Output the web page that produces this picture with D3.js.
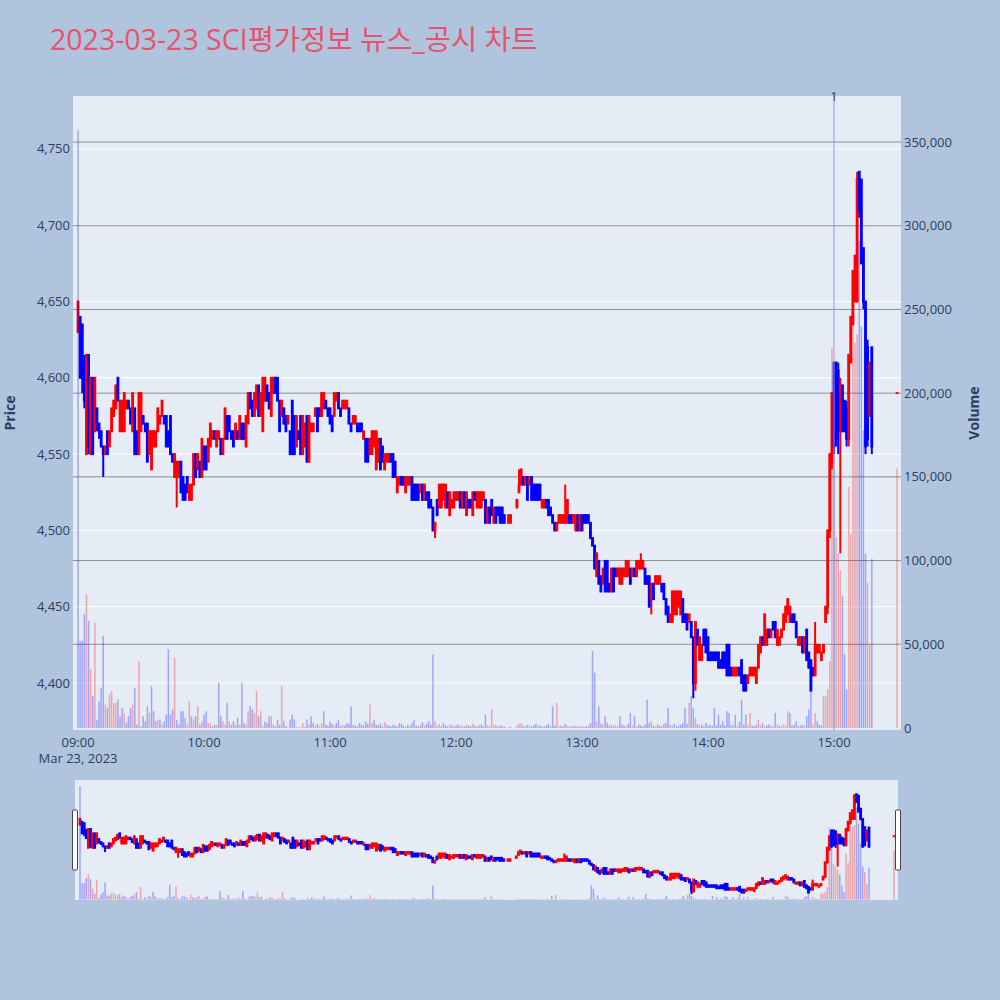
<!DOCTYPE html>
<html><head><meta charset="utf-8">
<script src="https://cdn.jsdelivr.net/npm/d3@7"></script>
<style>body{margin:0;background:#b0c4de;}svg{display:block}</style>
</head><body>
<svg id="c" width="1000" height="1000"></svg>
<script>
// ---------------- DATA ----------------
const chartTitle = "2023-03-23 SCI평가정보 뉴스_공시 차트";
const tradeDate = "2023-03-23";
const startTime = "09:00";      // index 0 = 09:00, one entry per minute
const prevClose = 4655;
const opens = [
4630,4640,4635,4610,4550,4615,4550,4600,4565,4580,
4570,4565,4555,4550,4565,4555,4565,4575,4580,4600,
4565,4565,4565,4580,4585,4580,4565,4580,4565,4550,
4565,4575,4570,4570,4550,4540,4555,4555,4565,4570,
4575,4575,4575,4565,4575,4550,4535,4540,4535,4545,
4535,4530,4535,4520,4520,4530,4550,4540,4545,4535,
4555,4555,4545,4555,4560,4565,4555,4560,4560,4550,
4560,4575,4575,4565,4565,4560,4565,4560,4570,4570,
4555,4570,4590,4585,4575,4580,4595,4575,4565,4585,
4595,4590,4575,4590,4600,4600,4585,4575,4580,4575,
4570,4565,4585,4575,4555,4565,4575,4550,4555,4575,
4545,4565,4565,4575,4580,4580,4575,4580,4585,4580,
4580,4575,4575,4585,4590,4580,4580,4580,4580,4580,
4570,4570,4570,4570,4570,4570,4560,4560,4560,4550,
4550,4555,4540,4545,4560,4555,4540,4545,4545,4550,
4550,4545,4525,4530,4535,4535,4525,4530,4530,4535,
4530,4530,4530,4525,4530,4520,4525,4525,4520,4515,
4500,4520,4515,4515,4520,4515,4525,4510,4515,4515,
4520,4520,4525,4515,4525,4510,4520,4520,4510,4525,
4515,4515,4515,4520,4520,4505,4515,4520,4505,4515,
4515,4515,4515,4510,null,4505,4505,null,null,4515,
4525,4530,4535,4530,4535,4530,4535,4530,4530,4530,
4530,4515,4515,4520,4520,4515,4510,4505,4500,4505,
4505,4505,4505,4505,4510,4510,4505,4500,4510,4500,
4510,4510,4510,4510,4505,4495,4490,4470,4480,4470,
4465,4480,4480,4465,4460,4475,4475,4470,4465,4465,
4470,4470,4470,4475,4470,4475,4470,4475,4475,4475,
4475,4470,4470,4455,4465,4465,4465,4465,4465,4465,
4455,4450,4440,4440,4445,4445,4450,4445,4455,4445,
4445,4440,4440,4430,4400,4435,4415,4415,4435,4435,
4430,4420,4420,4420,4420,4420,4415,4420,4420,4425,
4425,4410,4405,4405,4405,4410,4415,4405,4405,4400,
4405,4405,4405,4400,4410,4420,4430,4425,4425,4435,
4430,4440,4440,4425,4425,4430,4435,4440,4445,4440,
4445,4445,4440,4425,4425,4430,4420,4435,4420,4415,
4410,4405,4420,4420,4415,4420,4440,4450,4500,4545,
4610,4610,4605,4590,4595,4585,4580,4560,4610,4635,
4650,4650,4735,4730,4685,4650,4620,4575,4620,null,
null,null,null,null,null,null,null,null,null,null,
4590];
const highs = [
4650,4640,4635,4615,4615,4615,4600,4600,4600,4580,
4570,4565,4555,4555,4565,4565,4580,4585,4595,4600,
4585,4585,4590,4585,4585,4580,4590,4580,4565,4590,
4590,4575,4570,4570,4565,4565,4565,4565,4580,4575,
4585,4575,4575,4565,4575,4550,4550,4545,4545,4545,
4535,4530,4535,4530,4530,4550,4550,4550,4545,4560,
4555,4555,4560,4570,4565,4565,4565,4565,4560,4560,
4580,4575,4575,4565,4565,4570,4565,4575,4570,4570,
4575,4590,4590,4585,4590,4595,4595,4590,4600,4600,
4595,4590,4600,4600,4600,4600,4585,4585,4580,4575,
4575,4565,4585,4575,4575,4565,4575,4575,4570,4575,
4575,4570,4570,4580,4580,4580,4590,4590,4585,4580,
4580,4575,4590,4590,4590,4580,4585,4585,4585,4580,
4570,4575,4575,4570,4570,4570,4565,4560,4560,4560,
4565,4565,4565,4560,4560,4555,4550,4550,4550,4550,
4550,4545,4535,4535,4535,4535,4535,4535,4535,4535,
4530,4530,4530,4530,4530,4530,4525,4525,4520,4515,
4505,4520,4530,4530,4530,4530,4525,4525,4520,4525,
4525,4525,4525,4525,4525,4525,4520,4520,4525,4525,
4525,4525,4525,4525,4520,4515,4515,4520,4515,4515,
4515,4515,4515,4510,null,4510,4510,null,null,4520,
4540,4540,4535,4535,4535,4535,4535,4530,4530,4530,
4530,4520,4520,4520,4520,4515,4510,4505,4505,4510,
4510,4510,4530,4520,4510,4510,4510,4510,4510,4510,
4510,4510,4510,4510,4505,4495,4490,4485,4480,4470,
4475,4480,4480,4465,4475,4475,4475,4475,4475,4475,
4475,4480,4480,4475,4475,4475,4480,4480,4485,4480,
4475,4470,4470,4465,4465,4470,4470,4470,4465,4465,
4455,4450,4445,4460,4460,4460,4460,4460,4455,4445,
4445,4445,4440,4430,4440,4435,4430,4425,4435,4435,
4430,4420,4420,4420,4420,4420,4415,4420,4420,4425,
4425,4410,4410,4410,4410,4410,4415,4405,4405,4405,
4410,4410,4410,4410,4425,4430,4430,4445,4435,4435,
4435,4440,4440,4435,4430,4435,4445,4450,4455,4450,
4445,4445,4440,4430,4430,4430,4430,4435,4420,4415,
4410,4440,4425,4425,4420,4425,4450,4500,4550,4590,
4610,4610,4610,4600,4595,4585,4585,4615,4640,4670,
4680,4735,4735,4730,4685,4650,4625,4610,4620,null,
null,null,null,null,null,null,null,null,null,null,
4590];
const lows = [
4630,4600,4590,4580,4550,4550,4550,4550,4565,4565,
4560,4555,4535,4550,4550,4555,4565,4575,4580,4585,
4565,4565,4565,4580,4580,4570,4565,4550,4550,4550,
4565,4570,4565,4545,4550,4540,4555,4555,4565,4570,
4575,4570,4555,4555,4550,4545,4535,4515,4535,4525,
4520,4520,4525,4520,4520,4530,4535,4540,4535,4535,
4540,4540,4545,4555,4560,4560,4555,4560,4550,4550,
4560,4560,4565,4560,4555,4560,4560,4560,4560,4560,
4555,4570,4580,4575,4575,4580,4575,4575,4565,4585,
4585,4580,4575,4590,4590,4585,4565,4575,4570,4565,
4570,4550,4550,4550,4555,4560,4550,4550,4555,4545,
4545,4565,4565,4575,4565,4575,4575,4580,4580,4575,
4570,4565,4575,4585,4580,4575,4580,4580,4580,4570,
4565,4570,4570,4565,4565,4565,4560,4545,4545,4550,
4550,4555,4540,4545,4540,4545,4540,4545,4545,4545,
4535,4535,4525,4530,4530,4530,4525,4530,4530,4520,
4520,4520,4520,4525,4520,4520,4520,4515,4515,4500,
4495,4510,4515,4515,4520,4515,4515,4510,4515,4515,
4520,4520,4515,4515,4515,4510,4515,4515,4510,4520,
4515,4515,4515,4520,4505,4505,4505,4510,4505,4505,
4510,4505,4505,4505,null,4505,4505,null,null,4515,
4525,4530,4530,4530,4520,4530,4520,4520,4520,4520,
4520,4515,4515,4515,4510,4510,4505,4500,4500,4505,
4505,4505,4505,4505,4505,4505,4505,4500,4500,4500,
4500,4505,4505,4505,4495,4490,4475,4470,4465,4460,
4465,4460,4460,4460,4460,4460,4470,4470,4465,4465,
4470,4470,4470,4465,4470,4470,4470,4475,4475,4475,
4465,4465,4450,4445,4455,4465,4465,4465,4460,4455,
4445,4440,4440,4440,4445,4445,4450,4445,4440,4440,
4435,4440,4430,4390,4395,4425,4415,4415,4425,4420,
4415,4415,4415,4415,4415,4410,4410,4410,4410,4405,
4405,4405,4405,4405,4405,4405,4400,4395,4395,4400,
4405,4405,4405,4400,4410,4420,4425,4425,4425,4430,
4430,4435,4430,4425,4425,4430,4435,4440,4445,4440,
4440,4440,4430,4425,4425,4420,4420,4415,4410,4395,
4405,4405,4420,4420,4415,4420,4440,4445,4495,4540,
4550,4555,4550,4485,4565,4565,4555,4555,4610,4635,
4650,4650,4705,4675,4645,4550,4555,4575,4550,null,
null,null,null,null,null,null,null,null,null,null,
4590];
const closes = [
4650,4600,4600,4585,4615,4555,4600,4550,4600,4570,
4565,4555,4550,4555,4550,4565,4580,4585,4595,4585,
4585,4585,4590,4585,4580,4570,4590,4550,4550,4590,
4590,4570,4565,4545,4565,4565,4565,4565,4580,4575,
4585,4570,4555,4555,4550,4545,4550,4545,4545,4525,
4520,4520,4525,4530,4530,4550,4535,4550,4535,4560,
4540,4540,4560,4570,4565,4560,4565,4565,4550,4560,
4580,4560,4565,4560,4555,4570,4560,4575,4560,4560,
4575,4590,4580,4575,4590,4595,4575,4590,4600,4600,
4585,4580,4600,4600,4590,4585,4565,4585,4570,4565,
4575,4550,4550,4550,4575,4560,4550,4575,4570,4545,
4575,4570,4570,4580,4565,4575,4590,4590,4580,4575,
4570,4565,4590,4590,4580,4575,4585,4585,4585,4570,
4565,4575,4575,4565,4565,4565,4565,4545,4545,4560,
4565,4565,4565,4560,4540,4545,4550,4550,4550,4545,
4535,4535,4535,4535,4530,4530,4535,4535,4535,4520,
4520,4520,4520,4530,4520,4530,4520,4515,4515,4500,
4505,4510,4530,4530,4530,4530,4515,4525,4520,4525,
4525,4525,4515,4525,4515,4525,4515,4515,4525,4520,
4525,4525,4525,4525,4505,4515,4505,4510,4515,4505,
4510,4505,4505,4505,null,4510,4510,null,null,4520,
4530,4540,4530,4535,4520,4535,4520,4520,4520,4520,
4520,4520,4520,4515,4510,4510,4505,4500,4505,4510,
4510,4510,4510,4520,4505,4505,4510,4510,4500,4510,
4500,4505,4505,4505,4495,4490,4475,4485,4465,4460,
4475,4460,4460,4460,4475,4460,4470,4475,4475,4475,
4475,4480,4480,4465,4475,4470,4480,4480,4480,4480,
4465,4465,4450,4465,4455,4470,4470,4470,4460,4455,
4445,4440,4445,4460,4460,4460,4460,4460,4440,4440,
4435,4445,4430,4400,4440,4425,4430,4425,4425,4420,
4415,4415,4415,4415,4415,4410,4410,4410,4410,4405,
4405,4405,4410,4410,4410,4405,4400,4395,4395,4405,
4410,4410,4410,4410,4425,4430,4425,4445,4435,4430,
4435,4435,4430,4435,4430,4435,4445,4450,4455,4450,
4440,4440,4430,4430,4430,4420,4430,4415,4410,4395,
4405,4425,4425,4425,4420,4425,4450,4500,4550,4590,
4555,4560,4565,4595,4565,4565,4560,4615,4640,4670,
4680,4730,4710,4675,4650,4555,4560,4610,4555,null,
null,null,null,null,null,null,null,null,null,null,
4590];
const volumes = [
357000,52000,52000,68000,80000,64000,35000,19000,63000,5000,
16000,24000,55000,14000,12000,20000,22000,15000,15000,17000,
7000,12000,9000,3000,7000,12000,14000,24000,2000,40000,
1000,7000,4000,13000,9000,25000,10000,4000,5000,5000,
2000,4000,8000,47000,8000,11000,42000,5000,2000,10000,
10000,6000,2000,16000,7000,5000,7000,13000,2000,4000,
8000,10000,3000,3000,1000,2000,2000,27000,7000,4000,
2000,15000,4000,2000,4000,2000,6000,2000,27000,3000,
2000,10000,13000,11000,9000,22000,7000,10000,1000,4000,
3000,7000,7000,2000,1000,5000,2000,25000,4000,1000,
500,5000,8000,5000,400,400,300,3000,500,5000,
2000,7000,3000,1500,2500,1200,3000,10000,2000,1500,
4000,2500,1500,3000,5000,1000,2000,1500,3000,2500,
13000,2000,1500,1000,3000,2000,1500,4000,2500,14000,
3000,5000,2000,1500,2500,1000,3500,2000,1500,1000,
2000,1500,1000,3000,2500,1500,1000,2000,1200,3000,
5000,1500,1000,2000,3500,1500,2500,4000,2000,44000,
4000,1500,2500,1000,3000,1500,1000,2000,1500,1000,
1500,2000,1000,1500,1000,2000,1500,1000,2500,1500,
1000,1500,2000,1000,8000,1500,1000,11000,2000,1500,
1000,1500,1000,800,null,600,800,null,null,1500,
2500,3000,1500,1000,2000,1500,1000,1500,2500,1000,
1500,800,1000,1500,2500,1000,13000,1500,15000,1000,
1500,1000,2500,1500,1000,800,1500,1000,800,1200,
1000,800,1000,1200,3000,46000,33000,4000,13000,2500,
2000,7000,3000,1500,2000,1000,1500,1000,7000,2000,
1500,1000,2500,9000,1500,7000,1000,2000,1500,1000,
2000,17000,3000,4000,1500,1000,2000,1500,1000,2500,
3000,12000,2000,1500,2500,1000,1500,2000,3000,12000,
2500,15000,19000,12000,6000,2500,1500,2000,1000,3000,
1500,2000,1000,12000,1500,8000,2000,4000,1500,10000,
9000,1500,2000,8000,1000,4000,17000,2000,8000,1500,
9000,1500,1000,2000,5000,1500,3000,1000,1500,2000,
1500,1000,9000,2000,1500,1000,2500,1500,10000,9000,
1500,2000,4000,1000,1500,2000,1500,7000,11000,23000,
2000,9000,4000,2000,1500,19000,19000,23000,40000,227000,
218000,114000,104000,94000,79000,44000,23000,144000,116000,273000,
230000,235000,291000,240000,178000,104000,87000,50000,101000,null,
null,null,null,null,null,null,null,null,null,null,
155000];
const priceTicks = [4400,4450,4500,4550,4600,4650,4700,4750];
const volumeTicks = [0,50000,100000,150000,200000,250000,300000,350000];
const hourTicks = ["09:00","10:00","11:00","12:00","13:00","14:00","15:00"];
const newsTimes = ["15:00"];
const newsLabels = ["1"];

// ---------------- LAYOUT ----------------
const P = {l:73, r:901, t:96, b:730};
const S = {l:75, r:898, t:780, b:900};
const FONT = "'Open Sans','Noto Sans CJK KR',sans-serif";
const TXT = "#2a3f5f";
const UP = "#ff0000", DOWN = "#0000ff";
const FS = 13;

const parse = d3.timeParse("%Y-%m-%d %H:%M");
const t0 = parse(tradeDate + " " + startTime);
const tAt = i => new Date(+t0 + i * 60000);
const tOf = s => parse(tradeDate + " " + s);

const x = d3.scaleTime().domain([tAt(-2.4), tAt(391.9)]).range([P.l, P.r]);
const yP = d3.scaleLinear().domain([4369.2, 4784.7]).range([P.b, P.t]);
const yV = d3.scaleLinear().domain([-1200, 377500]).range([P.b, P.t]);
const yPs = d3.scaleLinear().domain(yP.domain()).range([S.b, S.t]);
const yVs = d3.scaleLinear().domain(yV.domain()).range([S.b, S.t]);

const svg = d3.select("#c");
svg.append("rect").attr("width",1000).attr("height",1000).attr("fill","#b0c4de");

svg.append("text").attr("x",50).attr("y",50).attr("font-family",FONT)
  .attr("font-size",28.5).attr("fill","#e8536b").text(chartTitle);

const defs = svg.append("defs");
defs.append("clipPath").attr("id","cp").append("rect")
  .attr("x",P.l).attr("y",P.t).attr("width",P.r-P.l).attr("height",P.b-P.t);
defs.append("clipPath").attr("id","cps").append("rect")
  .attr("x",S.l).attr("y",S.t).attr("width",S.r-S.l).attr("height",S.b-S.t);

svg.append("rect").attr("x",P.l).attr("y",P.t).attr("width",P.r-P.l).attr("height",P.b-P.t).attr("fill","#e5ecf6");

// gridlines
svg.append("g").selectAll("line").data(priceTicks).join("line")
  .attr("x1",P.l).attr("x2",P.r).attr("y1",d=>yP(d)).attr("y2",d=>yP(d))
  .attr("stroke","#fff").attr("stroke-width",1);
svg.append("g").selectAll("line").data(volumeTicks.filter(d=>d>0)).join("line")
  .attr("x1",P.l).attr("x2",P.r).attr("y1",d=>yV(d)).attr("y2",d=>yV(d))
  .attr("stroke","#8f8f8f").attr("stroke-width",1);

const valid = d3.range(closes.length).filter(i => closes[i] != null);
const candleColor = i => closes[i] >= opens[i] ? UP : DOWN;
function volColor(i){
  let p = prevClose;
  for (let j=i-1;j>=0;j--) if (closes[j]!=null){p=closes[j];break;}
  return closes[i] > p ? UP : DOWN;
}

function drawAll(g, xs, yp, yv){
  g.selectAll("line.w").data(valid).join("line").attr("class","w")
    .attr("x1",i=>xs(tAt(i))).attr("x2",i=>xs(tAt(i)))
    .attr("y1",i=>yp(highs[i])).attr("y2",i=>yp(lows[i]))
    .attr("stroke",candleColor).attr("stroke-width",2);
  g.selectAll("rect.b").data(valid).join("rect").attr("class","b")
    .attr("x",i=>xs(tAt(i))-1.4).attr("width",2.8)
    .attr("y",i=>yp(Math.max(opens[i],closes[i]))-1)
    .attr("height",i=>Math.abs(yp(opens[i])-yp(closes[i]))+2)
    .attr("fill",candleColor);
  const vi = valid.filter(i=>volumes[i]!=null);
  g.selectAll("rect.v").data(vi).join("rect").attr("class","v")
    .attr("x",i=>xs(tAt(i))-0.75).attr("width",1.5)
    .attr("y",i=>yv(volumes[i])).attr("height",i=>yv(0)-yv(volumes[i]))
    .attr("fill",volColor).attr("fill-opacity",0.3);
}
drawAll(svg.append("g").attr("clip-path","url(#cp)"), x, yP, yV);

// news marker
newsTimes.forEach((s,k)=>{
  const xx = x(tOf(s));
  svg.append("line").attr("x1",xx).attr("x2",xx).attr("y1",P.t).attr("y2",P.b)
    .attr("stroke","#8d9ede").attr("stroke-width",1);
  svg.append("text").attr("x",xx).attr("y",101).attr("text-anchor","middle")
    .attr("font-family",FONT).attr("font-size",12).attr("fill",TXT).text(newsLabels[k]);
});

// axes labels
const fmt = d3.format(",");
svg.append("g").selectAll("text").data(priceTicks).join("text")
  .attr("x",70).attr("y",d=>yP(d)).attr("dy","0.35em").attr("text-anchor","end")
  .attr("font-family",FONT).attr("font-size",FS).attr("fill",TXT).text(fmt);
svg.append("g").selectAll("text").data(volumeTicks).join("text")
  .attr("x",904).attr("y",d=>yV(d)).attr("dy","0.35em").attr("text-anchor","start")
  .attr("font-family",FONT).attr("font-size",FS).attr("fill",TXT).text(fmt);
svg.append("g").selectAll("text").data(hourTicks).join("text")
  .attr("x",d=>x(tOf(d))).attr("y",747).attr("text-anchor","middle")
  .attr("font-family",FONT).attr("font-size",FS).attr("fill",TXT).text(d=>d);
svg.append("text").attr("x",x(tOf(hourTicks[0]))).attr("y",763).attr("text-anchor","middle")
  .attr("font-family",FONT).attr("font-size",FS).attr("fill",TXT)
  .text(d3.timeFormat("%b %-d, %Y")(t0));
svg.append("text").attr("transform","translate(15,413) rotate(-90)").attr("text-anchor","middle")
  .attr("font-family",FONT).attr("font-size",14).attr("font-weight","bold").attr("fill",TXT).text("Price");
svg.append("text").attr("transform","translate(979,413) rotate(-90)").attr("text-anchor","middle")
  .attr("font-family",FONT).attr("font-size",14).attr("font-weight","bold").attr("fill",TXT).text("Volume");

// range slider
const xs = d3.scaleTime().domain(x.domain()).range([S.l, S.r]);
svg.append("rect").attr("x",S.l).attr("y",S.t).attr("width",S.r-S.l).attr("height",S.b-S.t).attr("fill","#e5ecf6");
drawAll(svg.append("g").attr("clip-path","url(#cps)"), xs, yPs, yVs);
[S.l, S.r].forEach(xx=>{
  svg.append("rect").attr("x",xx-2.5).attr("y",810).attr("width",5).attr("height",60)
    .attr("fill","#fff").attr("stroke","#444").attr("stroke-width",1).attr("rx",1);
});
</script>
</body></html>
